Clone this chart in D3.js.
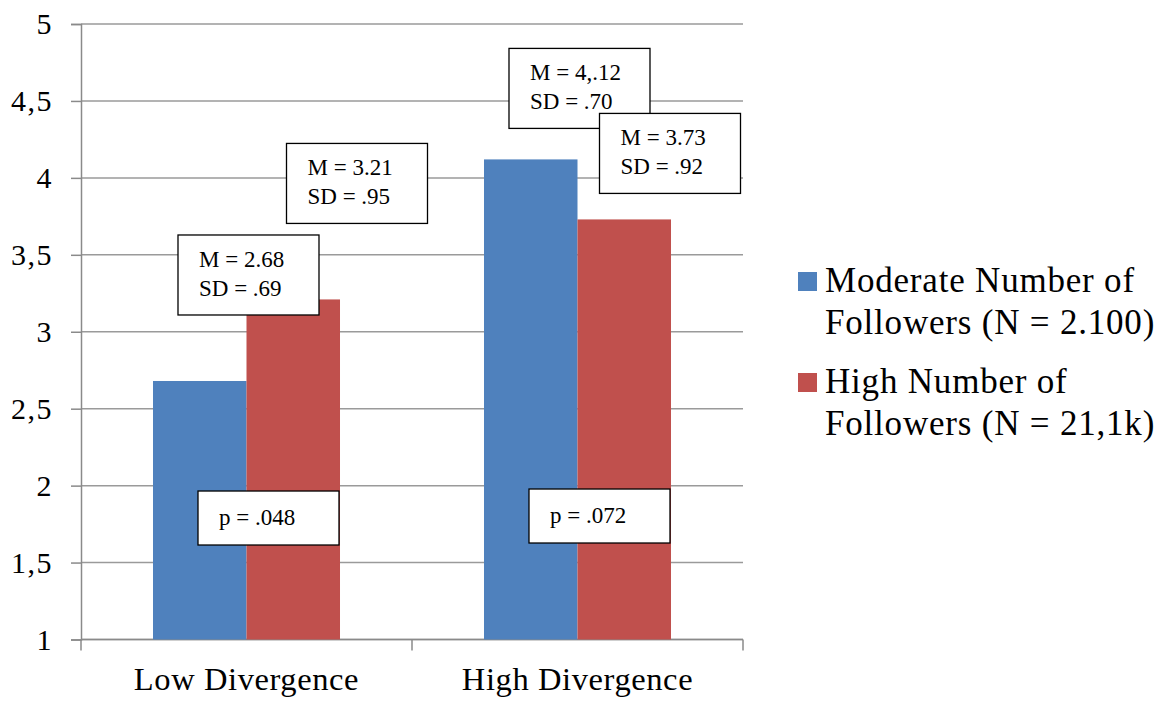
<!DOCTYPE html>
<html>
<head>
<meta charset="utf-8">
<script src="https://cdn.jsdelivr.net/npm/d3@7"></script>
<style>
  body { margin: 0; background: #fff; }
</style>
</head>
<body>
<div id="chart"></div>
<script>
// data
var categories = ["Low Divergence", "High Divergence"];
var seriesNames = ["Moderate Number of Followers (N = 2.100)", "High Number of Followers (N = 21,1k)"];
var legendLines = [["Moderate Number of", "Followers (N = 2.100)"], ["High Number of", "Followers (N = 21,1k)"]];
var moderateValues = [2.68, 4.12];
var highValues = [3.21, 3.73];
var yTicks = [1, 1.5, 2, 2.5, 3, 3.5, 4, 4.5, 5];
var meanLabels = [["M = 2.68", "SD = .69"], ["M = 3.21", "SD = .95"], ["M = 4,.12", "SD = .70"], ["M = 3.73", "SD = .92"]];
var pLabels = ["p = .048", "p = .072"];
var colors = ["#4F81BD", "#C0504D"];

var font = '"Liberation Serif"';

var svgWidth = 1168;
var svgHeight = 701;

var margin = { top: 24, right: 425, bottom: 61.5, left: 81 };
var width = svgWidth - margin.left - margin.right;
var height = svgHeight - margin.top - margin.bottom;

var svg = d3.select("#chart")
    .append("svg")
    .attr("width", svgWidth)
    .attr("height", svgHeight);

var chartGroup = svg.append("g")
    .attr("transform", `translate(${margin.left}, ${margin.top})`);

var xScale = d3.scaleBand()
    .domain(categories)
    .range([0, width]);

var xInner = d3.scaleBand()
    .domain([0, 1])
    .range([0, xScale.bandwidth()])
    .paddingInner(0)
    .paddingOuter(0.77);

var yScale = d3.scaleLinear()
    .domain([1, 5])
    .range([height, 0]);

// gridlines
chartGroup.selectAll("line.grid")
    .data(yTicks)
    .enter()
    .append("line")
    .attr("x1", 0)
    .attr("x2", width)
    .attr("y1", d => yScale(d))
    .attr("y2", d => yScale(d))
    .attr("stroke", "#9a9a9a")
    .attr("stroke-width", 1.5);

// y axis
var yAxis = d3.axisLeft(yScale)
    .tickValues(yTicks)
    .tickSize(10)
    .tickPadding(18)
    .tickFormat(d => String(d).replace(".", ","));

var yAxisG = chartGroup.append("g").call(yAxis);
yAxisG.attr("font-family", font);
yAxisG.select(".domain").attr("stroke", "#8a8a8a").attr("stroke-width", 1.5);
yAxisG.selectAll(".tick line").attr("stroke", "#8a8a8a").attr("stroke-width", 1.5);
yAxisG.selectAll(".tick text")
    .attr("font-family", font)
    .attr("font-size", "30px")
    .attr("letter-spacing", "1.5px")
    .attr("fill", "#000");

// x axis
chartGroup.append("line")
    .attr("x1", 0).attr("x2", width)
    .attr("y1", height).attr("y2", height)
    .attr("stroke", "#8a8a8a").attr("stroke-width", 1.5);

var xTickPos = categories.map(c => xScale(c)).concat([width]);
chartGroup.selectAll("line.xtick")
    .data(xTickPos)
    .enter()
    .append("line")
    .attr("x1", d => d).attr("x2", d => d)
    .attr("y1", height).attr("y2", height + 11)
    .attr("stroke", "#8a8a8a").attr("stroke-width", 1.5);

chartGroup.selectAll("text.xlabel")
    .data(categories)
    .enter()
    .append("text")
    .attr("x", d => xScale(d) + xScale.bandwidth() / 2)
    .attr("y", height + 50)
    .attr("text-anchor", "middle")
    .attr("font-family", font)
    .attr("font-size", "32.5px")
    .attr("letter-spacing", "0.6px")
    .text(d => d);

// bars
var barData = [];
categories.forEach((c, i) => {
    barData.push({ cat: c, s: 0, value: moderateValues[i] });
    barData.push({ cat: c, s: 1, value: highValues[i] });
});

chartGroup.selectAll("rect.bar")
    .data(barData)
    .enter()
    .append("rect")
    .attr("x", d => xScale(d.cat) + xInner(d.s))
    .attr("y", d => yScale(d.value))
    .attr("width", xInner.bandwidth())
    .attr("height", d => height - yScale(d.value))
    .attr("fill", d => colors[d.s]);

// M / SD boxes (offsets from the top-left corner of each bar)
var boxOffsets = [[25, -146], [40, -156], [25, -111], [22, -106]];
var boxW = 141, boxH = 80;

barData.forEach((d, i) => {
    var bx = xScale(d.cat) + xInner(d.s) + boxOffsets[i][0];
    var by = yScale(d.value) + boxOffsets[i][1];
    var g = chartGroup.append("g")
        .attr("transform", `translate(${bx}, ${by})`)
        .attr("font-family", font)
        .attr("font-size", "23px");
    g.append("rect")
        .attr("width", boxW).attr("height", boxH)
        .attr("fill", "#fff").attr("stroke", "#000").attr("stroke-width", 1.3);
    g.append("text").attr("x", 21).attr("y", 32).text(meanLabels[i][0]);
    g.append("text").attr("x", 21).attr("y", 61).text(meanLabels[i][1]);
});

// p boxes
var pBoxW = 141, pBoxH = 54;
categories.forEach((c, i) => {
    var g = chartGroup.append("g")
        .attr("transform", `translate(${xScale(c) + 117}, ${yScale(1.965) - i * 2})`)
        .attr("font-family", font)
        .attr("font-size", "23px");
    g.append("rect")
        .attr("width", pBoxW).attr("height", pBoxH)
        .attr("fill", "#fff").attr("stroke", "#000").attr("stroke-width", 1.3);
    g.append("text").attr("x", 21).attr("y", 34).text(pLabels[i]);
});

// legend
var legend = svg.append("g")
    .attr("transform", "translate(798, 272)")
    .attr("font-family", font)
    .attr("font-size", "35px");
seriesNames.forEach((name, i) => {
    var lg = legend.append("g").attr("transform", `translate(0, ${i * 101})`);
    lg.append("rect")
        .attr("width", 19).attr("height", 19)
        .attr("fill", colors[i]);
    legendLines[i].forEach((line, j) => {
        lg.append("text")
            .attr("x", 27)
            .attr("y", 20 + j * 42)
            .attr("letter-spacing", "0.8px")
            .text(line);
    });
});
</script>
</body>
</html>
